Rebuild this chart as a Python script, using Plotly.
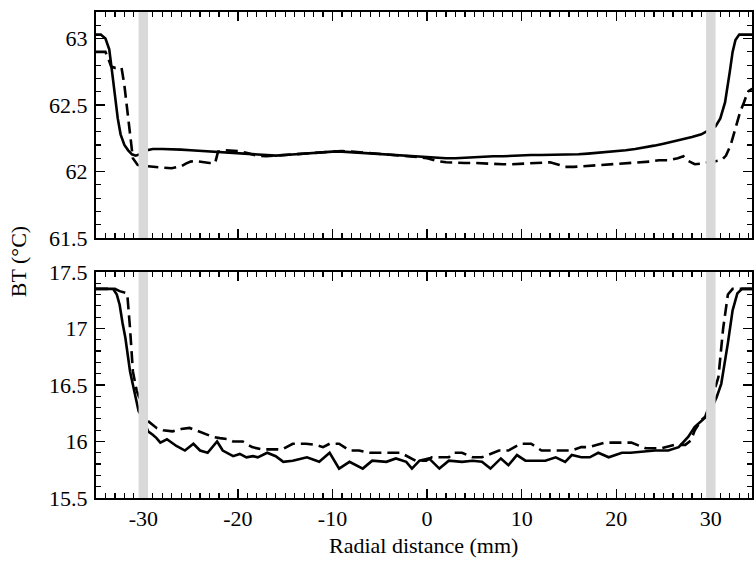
import plotly.graph_objects as go

# ---------------- data ----------------
# Top panel, solid curve
top_solid_x = [-35, -34.5, -34, -33.6, -33.3, -33, -32.7, -32.4, -32, -31.6, -31.2, -30.8, -30.4, -30,
               -29.6, -29, -28, -27, -26, -25, -24, -23, -22, -21, -20, -19, -18, -17, -16, -15, -14,
               -13, -12, -11, -10, -9, -8, -7, -6, -5, -4, -3, -2, -1, 0, 1, 2, 3, 4, 5, 6, 7, 8, 9,
               10, 11, 12, 13, 14, 15, 16, 17, 18, 19, 20, 21, 22, 23, 24, 25, 26, 27, 28, 29, 29.5,
               30, 30.5, 31, 31.5, 32, 32.3, 32.6, 33, 33.5, 35]
top_solid_y = [63.03, 63.03, 63.0, 62.92, 62.75, 62.55, 62.4, 62.28, 62.2, 62.16, 62.13, 62.12, 62.13,
               62.14, 62.16, 62.17, 62.17, 62.17, 62.165, 62.16, 62.155, 62.15, 62.15, 62.145, 62.14,
               62.13, 62.125, 62.12, 62.12, 62.125, 62.13, 62.14, 62.145, 62.15, 62.15, 62.15, 62.145,
               62.14, 62.14, 62.135, 62.13, 62.125, 62.12, 62.11, 62.105, 62.1, 62.1, 62.1, 62.105,
               62.11, 62.11, 62.115, 62.115, 62.12, 62.12, 62.125, 62.125, 62.125, 62.13, 62.13, 62.13,
               62.135, 62.14, 62.145, 62.15, 62.16, 62.17, 62.18, 62.195, 62.21, 62.225, 62.24, 62.26,
               62.28, 62.3, 62.32, 62.34, 62.4, 62.52, 62.75, 62.9, 62.99, 63.03, 63.03, 63.03]

# Top panel, dashed curve
top_dash_x = [-35, -34, -33.7, -33.4, -33, -32.3, -32.0, -31.7, -31.4, -31.1, -30.6, -30, -29.5, -29,
              -28, -27, -26.5, -26, -25.5, -25, -24.5, -24, -23.5, -23, -22.4, -22.1, -21.5, -21, -20,
              -19, -18, -17, -16, -15, -14, -13, -12, -11, -10, -9, -8, -7, -6, -5, -4, -3, -2, -1,
              0, 1, 2, 3, 4, 5, 6, 7, 8, 9, 10, 11, 12, 13, 14, 14.6, 15.5, 16.5, 17.5, 18.5, 19.5,
              20.5, 21.5, 22.5, 23.5, 24.5, 25.5, 26.5, 27.1, 27.6, 28.3, 29, 29.5, 30, 30.6, 31.2,
              31.6, 32.1, 32.6, 33.1, 33.5, 33.9, 34.3, 35]
top_dash_y = [62.9, 62.9, 62.85, 62.79, 62.78, 62.78, 62.65, 62.45, 62.25, 62.1, 62.05, 62.04, 62.04,
              62.035, 62.03, 62.025, 62.03, 62.04, 62.06, 62.075, 62.08, 62.075, 62.07, 62.065,
              62.065, 62.15, 62.16, 62.16, 62.155, 62.14, 62.12, 62.115, 62.12, 62.125, 62.13, 62.14,
              62.145, 62.15, 62.155, 62.155, 62.15, 62.145, 62.14, 62.135, 62.13, 62.125, 62.12,
              62.11, 62.1, 62.08, 62.07, 62.065, 62.065, 62.065, 62.06, 62.055, 62.055, 62.055, 62.06,
              62.065, 62.07, 62.07, 62.05, 62.035, 62.035, 62.04, 62.045, 62.045, 62.05, 62.06, 62.06,
              62.065, 62.075, 62.085, 62.085, 62.1, 62.115, 62.08, 62.055, 62.06, 62.065, 62.07,
              62.08, 62.09, 62.12, 62.2, 62.33, 62.45, 62.52, 62.6, 62.62, 62.63]

# Bottom panel, solid curve
bot_solid_x = [-35, -34, -33.2, -32.8, -32.5, -32.2, -31.9, -31.4, -30.9, -30.5, -30, -29.5, -29, -28.6,
               -28.2, -27.5, -26.5, -25.6, -24.7, -24, -23.2, -22.2, -21.6, -20.5, -19.8, -19.1, -18.4,
               -17.9, -16.9, -16, -15.2, -14.2, -12.7, -11.4, -10.3, -9.3, -8.2, -6.8, -5.8, -4.3,
               -3.3, -2.2, -1.6, -0.8, 0.2, 1.3, 2.3, 3.7, 4.8, 5.8, 6.7, 7.8, 8.6, 9.5, 10.4, 11.5,
               12.5, 13.6, 14.6, 15.3, 16.3, 17.2, 18.1, 19.2, 20.6, 21.5, 22.7, 24.1, 25.5, 26.6,
               27.6, 28.3, 29.4, 30, 30.6, 31.1, 31.8, 32.3, 32.8, 33.3, 35]
bot_solid_y = [17.35, 17.35, 17.35, 17.3, 17.21, 17.05, 16.92, 16.62, 16.42, 16.27, 16.2, 16.09, 16.06,
               16.03, 15.99, 16.02, 15.96, 15.92, 15.98, 15.92, 15.9, 16.0, 15.92, 15.87, 15.89, 15.86,
               15.87, 15.86, 15.9, 15.87, 15.82, 15.83, 15.86, 15.82, 15.9, 15.76, 15.82, 15.76, 15.83,
               15.82, 15.85, 15.82, 15.76, 15.83, 15.85, 15.76, 15.83, 15.82, 15.83, 15.82, 15.76,
               15.85, 15.79, 15.88, 15.83, 15.83, 15.83, 15.86, 15.82, 15.88, 15.86, 15.86, 15.9,
               15.86, 15.9, 15.9, 15.91, 15.92, 15.92, 15.95, 16.04, 16.13, 16.21, 16.28, 16.39, 16.51,
               16.87, 17.16, 17.31, 17.35, 17.35]

# Bottom panel, dashed curve
bot_dash_x = [-35, -33, -32.5, -31.7, -31.4, -31.1, -30.7, -30, -29.5, -28.6, -27.9, -26.9, -26, -25.1,
              -24.5, -24, -23.3, -22.6, -21.9, -21, -20.5, -19.5, -18.5, -17.4, -16.3, -15.3, -14.2,
              -12.8, -11.8, -11, -10.3, -9.3, -8.2, -7.2, -6.1, -5, -3.8, -2.8, -1.2, -0.1, 0.5, 2.3,
              2.8, 3.7, 4.8, 5.8, 7.6, 8.6, 9.9, 11, 12.1, 13.1, 14.2, 15.3, 16.3, 17.1, 18.8, 19.9,
              20.6, 21.6, 23.1, 24.8, 26.2, 27.3, 27.9, 28.3, 29, 29.4, 30, 30.8, 31.3, 31.8, 32.3, 35]
bot_dash_y = [17.35, 17.35, 17.33, 17.31, 17.0, 16.62, 16.45, 16.3, 16.18, 16.12, 16.1, 16.09, 16.11,
              16.12, 16.1, 16.09, 16.06, 16.04, 16.03, 16.02, 16.0, 16.0, 15.95, 15.93, 15.93, 15.93,
              15.98, 15.98, 15.97, 15.95, 15.98, 15.98, 15.92, 15.92, 15.9, 15.9, 15.9, 15.9, 15.83,
              15.83, 15.86, 15.86, 15.9, 15.9, 15.86, 15.86, 15.92, 15.92, 15.98, 15.98, 15.92, 15.92,
              15.92, 15.92, 15.95, 15.95, 15.99, 15.99, 15.99, 15.99, 15.94, 15.94, 15.97, 15.97,
              16.01, 16.1, 16.19, 16.22, 16.35, 16.57, 17.0, 17.3, 17.35, 17.35]

# Gray band positions (mm)
band_centers = [-30, 30]
band_halfwidth = 0.5

x_tickvals = [-30, -20, -10, 0, 10, 20, 30]
x_ticktext = ["-30", "-20", "-10", "0", "10", "20", "30"]
top_tickvals = [61.5, 62, 62.5, 63]
top_ticktext = ["61.5", "62", "62.5", "63"]
bot_tickvals = [15.5, 16, 16.5, 17, 17.5]
bot_ticktext = ["15.5", "16", "16.5", "17", "17.5"]

x_title = "Radial distance (mm)"
y_title = "BT (°C)"

# ---------------- figure ----------------
FONT = "'Liberation Serif', 'Times New Roman', Times, serif"
FS = 22
LW = 2.6
DASH = "12px,6px"

fig = go.Figure()
fig.add_trace(go.Scatter(x=top_solid_x, y=top_solid_y, mode="lines",
                         line=dict(color="black", width=LW), xaxis="x", yaxis="y", showlegend=False))
fig.add_trace(go.Scatter(x=top_dash_x, y=top_dash_y, mode="lines",
                         line=dict(color="black", width=LW, dash=DASH), xaxis="x", yaxis="y", showlegend=False))
fig.add_trace(go.Scatter(x=bot_solid_x, y=bot_solid_y, mode="lines",
                         line=dict(color="black", width=LW), xaxis="x2", yaxis="y2", showlegend=False))
fig.add_trace(go.Scatter(x=bot_dash_x, y=bot_dash_y, mode="lines",
                         line=dict(color="black", width=LW, dash=DASH), xaxis="x2", yaxis="y2", showlegend=False))

for c in band_centers:
    for xr, yr in (("x", "y domain"), ("x2", "y2 domain")):
        fig.add_shape(type="rect", xref=xr, yref=yr, x0=c - band_halfwidth, x1=c + band_halfwidth,
                      y0=0, y1=1, fillcolor="#d9d9d9", line=dict(width=0), layer="above")

XRANGE = [-35, 34.35]
common_x = dict(range=XRANGE, showgrid=False, zeroline=False, showline=True, linecolor="black",
                linewidth=2, mirror="ticks", ticks="inside", ticklen=9, tickwidth=1.5, tickcolor="black",
                tickvals=x_tickvals, ticktext=x_ticktext,
                minor=dict(ticks="inside", dtick=1, tick0=0, ticklen=5, tickwidth=1.2, tickcolor="black"),
                tickfont=dict(family=FONT, size=FS, color="black"))
common_y = dict(showgrid=False, zeroline=False, showline=True, linecolor="black", linewidth=2,
                mirror="ticks", ticks="inside", ticklen=9, tickwidth=1.5, tickcolor="black",
                minor=dict(ticks="inside", dtick=0.1, ticklen=5, tickwidth=1.2, tickcolor="black"),
                tickfont=dict(family=FONT, size=FS, color="black"), ticklabelstandoff=2)

# plot area: page x 96..754, y 10..498
H = 488.0
fig.update_layout(
    width=754, height=562,
    margin=dict(l=96, r=0, t=10, b=64),
    paper_bgcolor="white", plot_bgcolor="white",
    font=dict(family=FONT, size=FS, color="black"),
    xaxis=dict(common_x, anchor="y", showticklabels=False),
    yaxis=dict(common_y, domain=[(498 - 237) / H, 1.0], range=[61.5, 63.2],
               tickvals=top_tickvals, ticktext=top_ticktext, anchor="x",
               minor=dict(ticks="inside", tickvals=[61.6, 61.7, 61.8, 61.9, 62.1, 62.2, 62.3, 62.4,
                                                      62.6, 62.7, 62.8, 62.9, 63.1],
                          ticklen=5, tickwidth=1.2, tickcolor="black")),
    xaxis2=dict(common_x, anchor="y2", showticklabels=True, ticklabelstandoff=0),
    yaxis2=dict(common_y, domain=[0.0, (498 - 271) / H], range=[15.5, 17.5],
                tickvals=bot_tickvals, ticktext=bot_ticktext, anchor="x2"),
    annotations=[
        dict(text=x_title, xref="paper", yref="paper", x=(424 - 96) / 658.0, y=(498 - 546) / H,
             xanchor="center", yanchor="middle", showarrow=False, font=dict(family=FONT, size=FS)),
        dict(text=y_title, xref="paper", yref="paper", x=(19 - 96) / 658.0, y=(498 - 261) / H,
             xanchor="center", yanchor="middle", textangle=-90, showarrow=False,
             font=dict(family=FONT, size=FS)),
    ],
)

fig.write_html("out.html",
               config={"displayModeBar": False, "staticPlot": True},
               post_script="document.body.style.margin='0';document.body.style.overflow='hidden';")
